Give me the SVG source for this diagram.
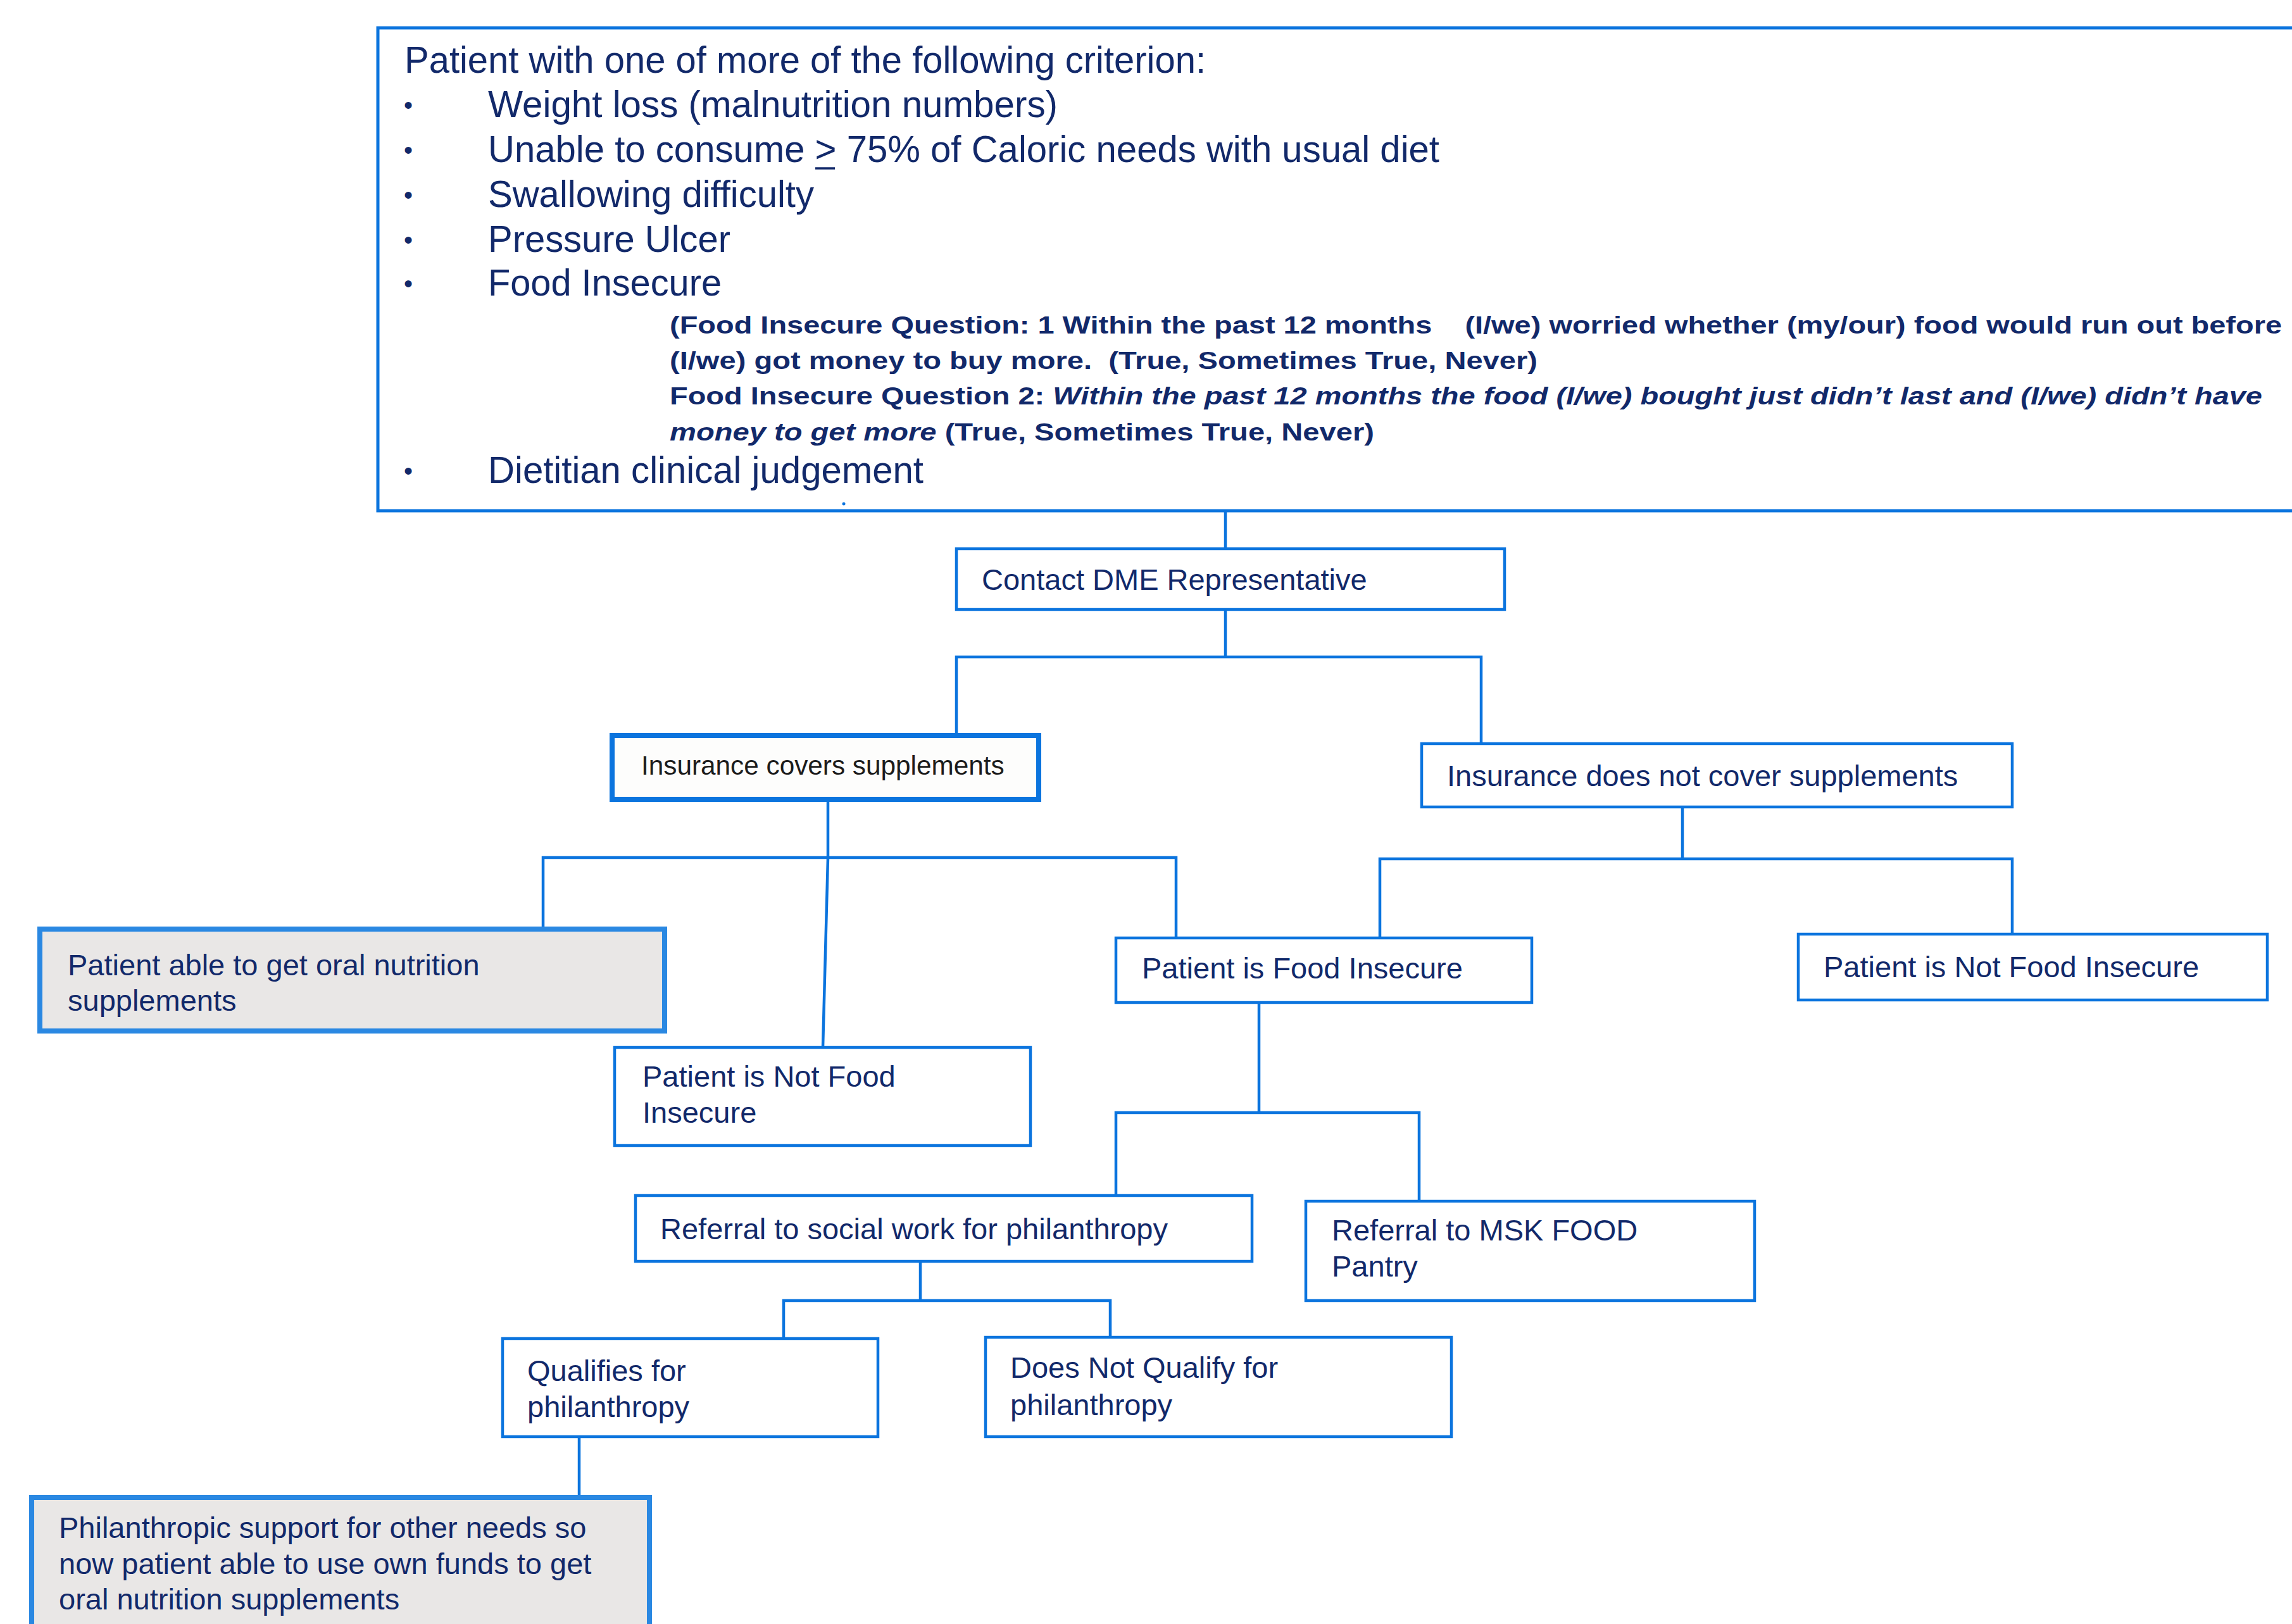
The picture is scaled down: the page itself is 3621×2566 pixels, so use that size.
<svg xmlns="http://www.w3.org/2000/svg" width="3621" height="2566" viewBox="0 0 3621 2566">
<style>
.box{fill:#ffffff;stroke:#0b74de;stroke-width:4.5}
.thick{fill:#fdfdfc;stroke:#0b74de;stroke-width:8}
.grey{fill:#e9e7e6;stroke:#2a88e2;stroke-width:8}
.t{font-family:"Liberation Sans",Arial,sans-serif;font-size:47px;fill:#12296a}
.tb{font-family:"Liberation Sans",Arial,sans-serif;font-size:42.3px;fill:#1c1c1c}
.big{font-family:"Liberation Sans",Arial,sans-serif;font-size:60px;fill:#12296a}
.bul{font-family:"Liberation Sans",Arial,sans-serif;font-size:40px;fill:#12296a}
.sub{font-family:"Liberation Sans",Arial,sans-serif;font-size:38px;font-weight:bold;fill:#12296a}
.c{stroke:#0b74de;stroke-width:4.5;fill:none}
</style>
<rect width="3621" height="2566" fill="#ffffff"/>

<g id="criteria">
<rect x="597" y="44" width="3120" height="763" fill="#ffffff" stroke="#0b74de" stroke-width="5"/>
<text class="big" x="639" y="115" textLength="1266" lengthAdjust="spacingAndGlyphs">Patient with one of more of the following criterion:</text>
<text class="bul" x="638" y="180">•</text>
<text class="big" x="771" y="185" textLength="900" lengthAdjust="spacingAndGlyphs">Weight loss (malnutrition numbers)</text>
<text class="bul" x="638" y="251">•</text>
<text class="big" x="771" y="256" textLength="1503" lengthAdjust="spacingAndGlyphs">Unable to consume &gt; 75% of Caloric needs with usual diet</text>
<line x1="1288" y1="266" x2="1319" y2="266" stroke="#12296a" stroke-width="3.5"/>
<text class="bul" x="638" y="322">•</text>
<text class="big" x="771" y="327" textLength="515" lengthAdjust="spacingAndGlyphs">Swallowing difficulty</text>
<text class="bul" x="638" y="393">•</text>
<text class="big" x="771" y="398" textLength="383" lengthAdjust="spacingAndGlyphs">Pressure Ulcer</text>
<text class="bul" x="638" y="462">•</text>
<text class="big" x="771" y="467" textLength="369" lengthAdjust="spacingAndGlyphs">Food Insecure</text>
<text class="sub" x="1058" y="527" textLength="2547" lengthAdjust="spacingAndGlyphs" xml:space="preserve">(Food Insecure Question: 1 Within the past 12 months    (I/we) worried whether (my/our) food would run out before</text>
<text class="sub" x="1058" y="583" textLength="1371" lengthAdjust="spacingAndGlyphs" xml:space="preserve">(I/we) got money to buy more.  (True, Sometimes True, Never)</text>
<text class="sub" x="1058" y="639" textLength="2516" lengthAdjust="spacingAndGlyphs">Food Insecure Question 2: <tspan font-style="italic">Within the past 12 months the food (I/we) bought just didn’t last and (I/we) didn’t have</tspan></text>
<text class="sub" x="1058" y="696" textLength="1113" lengthAdjust="spacingAndGlyphs"><tspan font-style="italic">money to get more</tspan> (True, Sometimes True, Never)</text>
<text class="bul" x="638" y="758">•</text>
<text class="big" x="771" y="763" textLength="688" lengthAdjust="spacingAndGlyphs">Dietitian clinical judgement</text>
<circle cx="1333" cy="796" r="2.5" fill="#0b74de"/>
</g>

<g id="connectors">
<path class="c" d="M1936 808V867"/>
<path class="c" d="M1936 963V1038M1511 1158V1038H2340V1175"/>
<path class="c" d="M1308 1263V1355M858 1468V1355H1858V1482M1308 1355L1300 1655"/>
<path class="c" d="M2658 1275V1357M2180 1482V1357H3179V1476"/>
<path class="c" d="M1989 1584V1758M1763 1889V1758H2242V1898"/>
<path class="c" d="M1454 1993V2055M1238 2115V2055H1754V2113"/>
<path class="c" d="M915 2270V2366"/>
</g>

<g id="contact">
<rect class="box" x="1511" y="867" width="866" height="96"/>
<text class="t" x="1551" y="932">Contact DME Representative</text>
</g>

<g id="ins-covers">
<rect class="thick" x="967" y="1162" width="674" height="101"/>
<text class="tb" x="1013" y="1224">Insurance covers supplements</text>
</g>

<g id="ins-not">
<rect class="box" x="2246" y="1175" width="933" height="100"/>
<text class="t" x="2286" y="1242">Insurance does not cover supplements</text>
</g>

<g id="patient-able">
<rect class="grey" x="63" y="1468" width="987" height="161"/>
<text class="t" x="107" y="1541">Patient able to get oral nutrition</text>
<text class="t" x="107" y="1597">supplements</text>
</g>

<g id="not-fi-left">
<rect class="box" x="971" y="1655" width="657" height="155"/>
<text class="t" x="1015" y="1717">Patient is Not Food</text>
<text class="t" x="1015" y="1774">Insecure</text>
</g>

<g id="fi">
<rect class="box" x="1763" y="1482" width="657" height="102"/>
<text class="t" x="1804" y="1546">Patient is Food Insecure</text>
</g>

<g id="not-fi-right">
<rect class="box" x="2841" y="1476" width="741" height="104"/>
<text class="t" x="2881" y="1544">Patient is Not Food Insecure</text>
</g>

<g id="ref-social">
<rect class="box" x="1004" y="1889" width="974" height="104"/>
<text class="t" x="1043" y="1958">Referral to social work for philanthropy</text>
</g>

<g id="ref-msk">
<rect class="box" x="2063" y="1898" width="709" height="157"/>
<text class="t" x="2104" y="1960">Referral to MSK FOOD</text>
<text class="t" x="2104" y="2017">Pantry</text>
</g>

<g id="qualifies">
<rect class="box" x="794" y="2115" width="593" height="155"/>
<text class="t" x="833" y="2182">Qualifies for</text>
<text class="t" x="833" y="2239">philanthropy</text>
</g>

<g id="not-qualify">
<rect class="box" x="1557" y="2113" width="736" height="157"/>
<text class="t" x="1596" y="2177">Does Not Qualify for</text>
<text class="t" x="1596" y="2236">philanthropy</text>
</g>

<g id="philanthropic">
<rect class="grey" x="50" y="2366" width="976" height="230" stroke="#0b74de"/>
<text class="t" x="93" y="2430">Philanthropic support for other needs so</text>
<text class="t" x="93" y="2487">now patient able to use own funds to get</text>
<text class="t" x="93" y="2543">oral nutrition supplements</text>
</g>
</svg>
